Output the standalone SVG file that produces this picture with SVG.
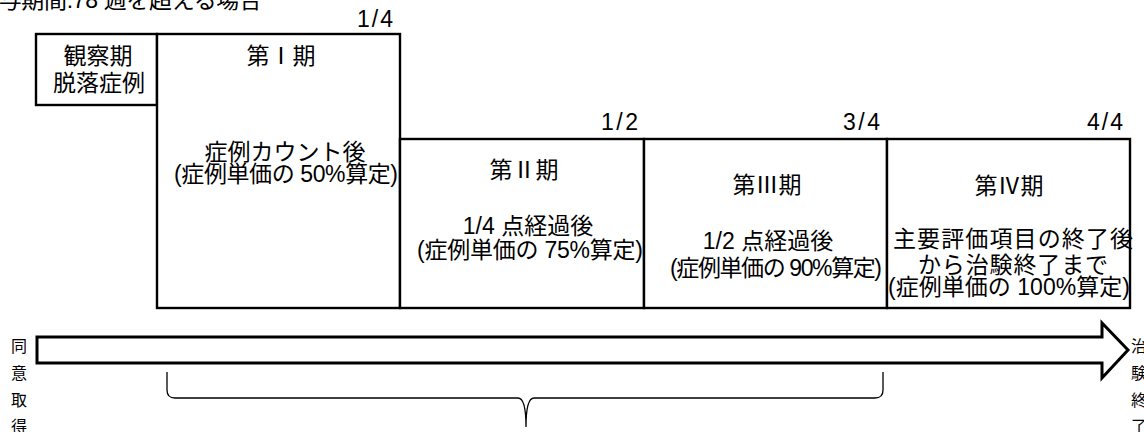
<svg xmlns="http://www.w3.org/2000/svg" width="1144" height="432" viewBox="0 0 1144 432">
<style>
text{font-family:"Liberation Sans","Noto Sans CJK JP",sans-serif;fill:#000;font-size:23px}
.c{text-anchor:middle}
.e{text-anchor:end}
.box{fill:#fff;stroke:#000;stroke-width:2.4}
.v{font-size:16px;text-anchor:middle}
</style>
<rect width="1144" height="432" fill="#fff"/>
<text x="-24" y="8" textLength="286" lengthAdjust="spacing">投与期間:78 週を超える場合</text>
<g id="fractions">
<text class="e" x="393" y="27" textLength="36" lengthAdjust="spacing">1/4</text>
<text class="e" x="638" y="130" textLength="37" lengthAdjust="spacing">1/2</text>
<text class="e" x="880" y="130" textLength="37" lengthAdjust="spacing">3/4</text>
<text class="e" x="1123" y="130" textLength="36" lengthAdjust="spacing">4/4</text>
</g>
<g id="observation">
<rect class="box" x="36" y="34" width="121" height="71"/>
<text class="c" x="98" y="64">観察期</text>
<text class="c" x="99" y="91">脱落症例</text>
</g>
<g id="phase1">
<rect class="box" x="157" y="34" width="243" height="274"/>
<text class="c" x="281" y="64">第Ⅰ期</text>
<text class="c" x="285" y="160">症例カウント後</text>
<text class="c" x="286" y="182" textLength="224" lengthAdjust="spacing">(症例単価の 50%算定)</text>
</g>
<g id="phase2">
<rect class="box" x="400" y="139" width="244" height="169"/>
<text class="c" x="524" y="178">第Ⅱ期</text>
<text class="c" x="528" y="234">1/4 点経過後</text>
<text class="c" x="530" y="258" textLength="226" lengthAdjust="spacing">(症例単価の 75%算定)</text>
</g>
<g id="phase3">
<rect class="box" x="644" y="139" width="243" height="169"/>
<text class="c" x="767" y="193">第Ⅲ期</text>
<text class="c" x="768" y="249">1/2 点経過後</text>
<text class="c" x="776" y="276" textLength="212" lengthAdjust="spacing">(症例単価の 90%算定)</text>
</g>
<g id="phase4">
<rect class="box" x="887" y="139" width="243" height="169"/>
<text class="c" x="1009" y="194">第Ⅳ期</text>
<text class="c" x="1013" y="247" textLength="240" lengthAdjust="spacing">主要評価項目の終了後</text>
<text class="c" x="1013" y="273" textLength="190" lengthAdjust="spacing">から治験終了まで</text>
<text class="c" x="1009" y="295" textLength="242" lengthAdjust="spacing">(症例単価の 100%算定)</text>
</g>
<g id="connectors">
<polygon points="37,337 1102,337 1102,323 1128,350 1102,378 1102,363 37,363" fill="#fff" stroke="#000" stroke-width="3" stroke-linejoin="miter"/>
<path d="M167,372 L167,390 Q167,398 175,398 L518,398 Q526,398 526,427 Q526,398 534,398 L875,398 Q883,398 883,390 L883,372" fill="none" stroke="#000" stroke-width="1.3"/>
</g>
<g id="consent">
<text class="v" x="19"><tspan x="19" y="352">同</tspan><tspan x="19" y="379">意</tspan><tspan x="19" y="406">取</tspan><tspan x="19" y="432">得</tspan></text>
</g>
<g id="end">
<text class="v" x="1139"><tspan x="1139" y="352">治</tspan><tspan x="1139" y="379">験</tspan><tspan x="1139" y="406">終</tspan><tspan x="1139" y="432">了</tspan></text>
</g>
</svg>
